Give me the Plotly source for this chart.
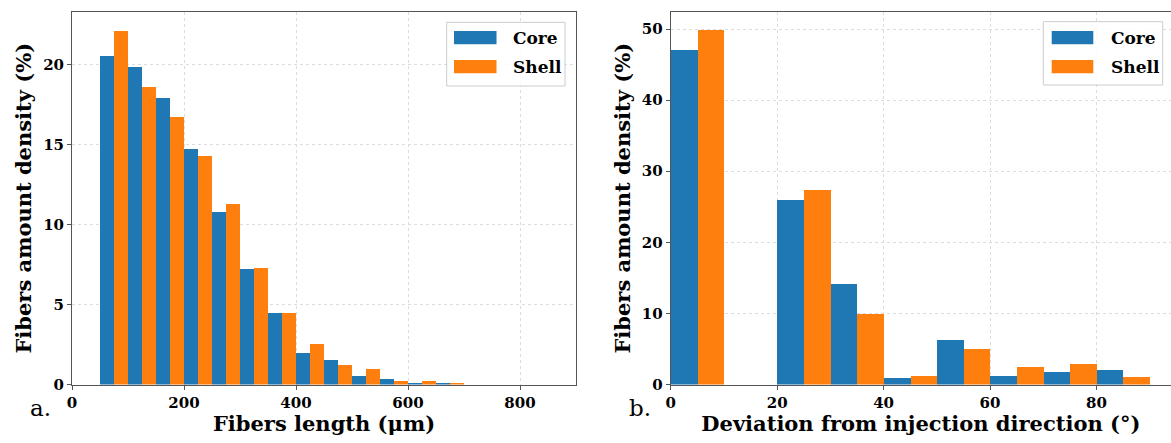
import plotly.graph_objects as go

# ---------------- data ----------------
length_bins = [50, 100, 150, 200, 250, 300, 350, 400, 450, 500, 550, 600, 650]
length_core = [20.5, 19.85, 17.9, 14.7, 10.75, 7.2, 4.45, 1.96, 1.52, 0.54, 0.37, 0.1, 0.08]
length_shell = [22.1, 18.6, 16.7, 14.3, 11.25, 7.3, 4.44, 2.56, 1.2, 0.94, 0.25, 0.25, 0.1]
length_bin_width = 50

angle_bins = [0, 10, 20, 30, 40, 50, 60, 70, 80]
angle_core = [47.1, 0.0, 26.0, 14.1, 0.95, 6.25, 1.2, 1.7, 2.1]
angle_shell = [49.9, 0.0, 27.4, 9.95, 1.2, 4.95, 2.5, 2.88, 1.0]
angle_bin_width = 10

series_names = ["Core", "Shell"]
series_colors = ["#1f77b4", "#ff7f0e"]

length_ticks = [0, 200, 400, 600, 800]
length_yticks = [0, 5, 10, 15, 20]
angle_ticks = [0, 20, 40, 60, 80]
angle_yticks = [0, 10, 20, 30, 40, 50]

W, H = 1171, 443
FONT = "DejaVu Serif"


def px(x):
    return x / W


def py(y):
    return 1 - y / H


fig = go.Figure()

# left panel bars
for name, vals, col, k in [(series_names[0], length_core, series_colors[0], 0),
                           (series_names[1], length_shell, series_colors[1], 1)]:
    fig.add_trace(go.Bar(
        x=length_bins, y=vals, width=length_bin_width / 2,
        offset=k * length_bin_width / 2, marker=dict(color=col, line=dict(width=0)),
        name=name, showlegend=False, xaxis="x", yaxis="y"))

# right panel bars
for name, vals, col, k in [(series_names[0], angle_core, series_colors[0], 0),
                           (series_names[1], angle_shell, series_colors[1], 1)]:
    fig.add_trace(go.Bar(
        x=angle_bins, y=vals, width=angle_bin_width / 2,
        offset=k * angle_bin_width / 2, marker=dict(color=col, line=dict(width=0)),
        name=name, showlegend=False, xaxis="x2", yaxis="y2"))

ydom = [py(384.5), py(12)]
axis_common = dict(
    automargin=False,
    showline=True, linecolor="#555555", linewidth=1, mirror=True,
    showgrid=True, gridcolor="#dcdcdc", griddash="dot", gridwidth=0.7,
    zeroline=False, ticks="outside", ticklen=4, tickcolor="#555555", tickwidth=1,
    tickfont=dict(family=FONT, size=15, color="black", weight="bold"),
)
title_font = dict(family=FONT, size=21, color="black", weight="bold")

fig.update_layout(
    width=W, height=H, margin=dict(l=0, r=0, t=0, b=0),
    paper_bgcolor="white", plot_bgcolor="white", barmode="overlay", bargap=0,
    xaxis=dict(domain=[px(72), px(576)], range=[0, 900], tickvals=length_ticks,
               anchor="y",
               title=dict(text="Fibers length (μm)", standoff=5, font=title_font),
               **axis_common),
    yaxis=dict(domain=ydom, range=[0, 23.27], tickvals=length_yticks, anchor="x",
               title=dict(text="Fibers amount density (%)", standoff=5, font=title_font),
               **axis_common),
    xaxis2=dict(domain=[px(670.7), 1.0], range=[0, 94.0], tickvals=angle_ticks,
                anchor="y2",
                title=dict(text="Deviation from injection direction (°)", standoff=5,
                           font=title_font),
                **axis_common),
    yaxis2=dict(domain=ydom, range=[0, 52.4], tickvals=angle_yticks, anchor="x2",
                title=dict(text="Fibers amount density (%)", standoff=5, font=title_font),
                **axis_common),
)

# custom legends (matplotlib-style boxes)
shapes = []
annotations = []
legend_boxes = [
    dict(x0=446.7, x1=565.0, y0=22.3, y1=86.0, px0=454.0, px1=496.5, tx=511.0),
    dict(x0=1043.3, x1=1162.7, y0=21.7, y1=85.0, px0=1051.7, px1=1093.3, tx=1108.5),
]
for b in legend_boxes:
    shapes.append(dict(type="rect", xref="paper", yref="paper",
                       x0=px(b["x0"]), x1=px(b["x1"]), y0=py(b["y1"]), y1=py(b["y0"]),
                       line=dict(color="#cccccc", width=1), fillcolor="rgba(255,255,255,0.85)",
                       layer="above"))
    for i, (nm, col) in enumerate(zip(series_names, series_colors)):
        top = 31.0 + i * 29.0
        shapes.append(dict(type="rect", xref="paper", yref="paper",
                           x0=px(b["px0"]), x1=px(b["px1"]), y0=py(top + 13.3), y1=py(top),
                           line=dict(width=0), fillcolor=col, layer="above"))
        annotations.append(dict(xref="paper", yref="paper", x=px(b["tx"]), y=py(top + 6.6),
                                xanchor="left", yanchor="middle", showarrow=False, text=nm,
                                font=dict(family=FONT, size=17, color="black", weight="bold")))

annotations.append(dict(xref="paper", yref="paper", x=px(40), y=py(408), text="a.",
                        showarrow=False, xanchor="center", yanchor="middle",
                        font=dict(family=FONT, size=23, color="black")))
annotations.append(dict(xref="paper", yref="paper", x=px(640), y=py(408), text="b.",
                        showarrow=False, xanchor="center", yanchor="middle",
                        font=dict(family=FONT, size=23, color="black")))

fig.update_layout(shapes=shapes, annotations=annotations)

fig.write_html("out.html", config={"displayModeBar": False},
               post_script="document.body.style.margin='0';document.body.style.overflow='hidden';")
